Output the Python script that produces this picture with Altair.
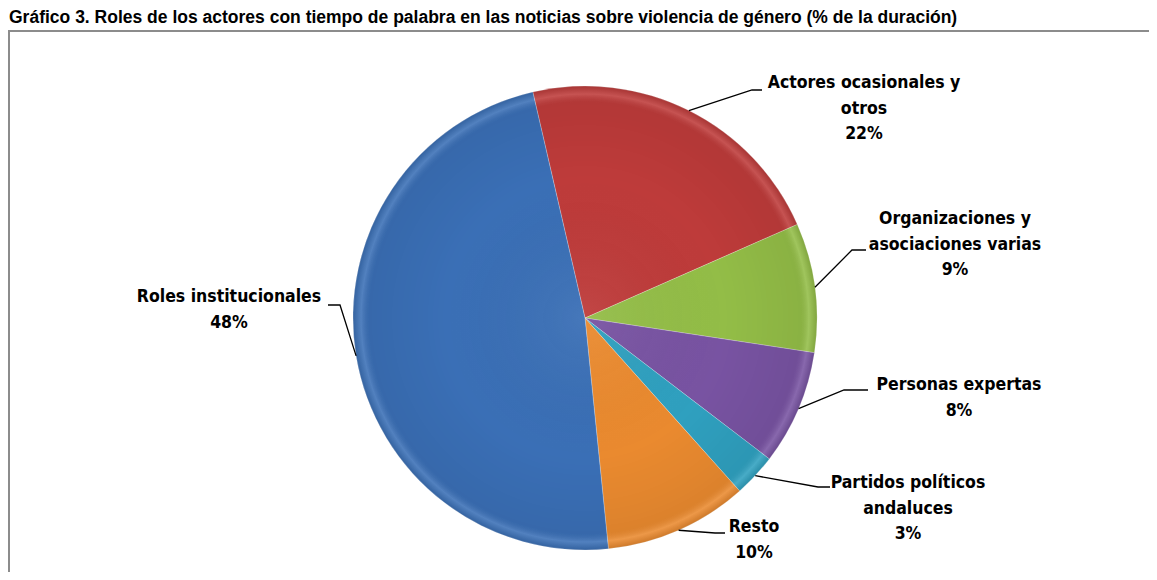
import math
import altair as alt
import pandas as pd

# ---- data ----
categories = [
    "Actores ocasionales y otros",
    "Organizaciones y asociaciones varias",
    "Personas expertas",
    "Partidos políticos andaluces",
    "Resto",
    "Roles institucionales",
]
values = [22, 9, 8, 3, 10, 48]
label_lines = [
    ["Actores ocasionales y", "otros"],
    ["Organizaciones y", "asociaciones varias"],
    ["Personas expertas"],
    ["Partidos políticos", "andaluces"],
    ["Resto"],
    ["Roles institucionales"],
]
colors = ["#BE3B3A", "#93BD47", "#7853A2", "#2FA0BF", "#EA8A2F", "#3A6FB6"]
title_text = ("Gráfico 3. Roles de los actores con tiempo de palabra en las noticias "
              "sobre violencia de género (% de la duración)")

# ---- layout ----
W, H = 1141, 564
CX, CY, R = 577, 310, 232
START = math.radians(-13)
LINE_H = 25.5
label_pos = [(856, 75), (947, 211), (951, 377), (900, 475), (746, 519), (221, 289)]
leader_elbow = [(744, 82), (844, 242), (836, 382), (810, 479), (707, 525), (332, 297)]
leader_end = [(754, 82), (858, 242), (860, 382), (822, 479), (717, 525), (320, 297)]
LABEL_FONT = "Liberation Sans Narrow, DejaVu Sans Condensed, Roboto Condensed, Roboto, sans-serif"

total = sum(values)
pie_df = pd.DataFrame({"cat": categories, "value": values, "ord": list(range(len(values)))})

# label text rows and leader lines derived from slice mid-angles
text_rows = []
line_rows = []
cum = 0.0
for i, (c, v) in enumerate(zip(categories, values)):
    mid = START + 2 * math.pi * (cum + v / 2) / total
    cum += v
    sx = CX + R * math.sin(mid)
    sy = CY - R * math.cos(mid)
    lines = label_lines[i] + [f"{v}%"]
    lx, ly = label_pos[i]
    for k, t in enumerate(lines):
        text_rows.append({"t": t, "x": lx, "y": ly + k * LINE_H})
    pts = [(sx, sy), leader_elbow[i], leader_end[i]]
    for k, (px, py) in enumerate(pts):
        line_rows.append({"g": c, "k": k, "x": px, "y": py})

text_df = pd.DataFrame(text_rows)
line_df = pd.DataFrame(line_rows)

xs = alt.Scale(domain=[0, W], range=[0, W], nice=False, zero=False)
ys = alt.Scale(domain=[0, H], range=[0, H], nice=False, zero=False)

frame = alt.Chart(pd.DataFrame({"a": [0]})).mark_rect(
    fillOpacity=0, stroke="#8c8c8c", strokeWidth=2
).encode(x=alt.value(1), x2=alt.value(W + 30), y=alt.value(23), y2=alt.value(H + 30))

title = alt.Chart(pd.DataFrame({"t": [title_text]})).mark_text(
    align="left", baseline="top", font="Liberation Sans, Arial, sans-serif",
    fontWeight="bold", fontSize=17.5, color="#000000"
).encode(x=alt.value(1), y=alt.value(1), text="t:N")

pie = alt.Chart(pie_df).mark_arc(
    outerRadius=R, stroke="#ffffff", strokeWidth=0.8, strokeOpacity=0.3
).encode(
    theta=alt.Theta("value:Q", stack=True,
                    scale=alt.Scale(domain=[0, total], range=[START, START + 2 * math.pi])),
    color=alt.Color("cat:N", scale=alt.Scale(domain=categories, range=colors), legend=None),
    order=alt.Order("ord:Q"),
    x=alt.value(CX),
    y=alt.value(CY),
)

shade = alt.Chart(pd.DataFrame({"a": [0]})).mark_arc(
    theta=0, theta2=2 * math.pi, outerRadius=R,
    fill=alt.RadialGradient(
        gradient="radial", x1=0.5, y1=0.5, r1=0, x2=0.5, y2=0.5, r2=0.5,
        stops=[
            alt.GradientStop(color="rgba(255,255,255,0.06)", offset=0),
            alt.GradientStop(color="rgba(0,0,0,0.0)", offset=0.6),
            alt.GradientStop(color="rgba(0,0,0,0.06)", offset=0.93),
            alt.GradientStop(color="rgba(255,255,255,0.12)", offset=0.965),
            alt.GradientStop(color="rgba(0,0,0,0.12)", offset=1),
        ],
    ),
).encode(x=alt.value(CX), y=alt.value(CY))

leaders = alt.Chart(line_df).mark_line(color="#000000", strokeWidth=1.3).encode(
    x=alt.X("x:Q", scale=xs, axis=None),
    y=alt.Y("y:Q", scale=ys, axis=None),
    detail="g:N",
    order="k:Q",
)

labels = alt.Chart(text_df).mark_text(
    align="center", baseline="middle", font=LABEL_FONT, fontWeight="bold",
    fontSize=17.5, color="#000000"
).encode(
    x=alt.X("x:Q", scale=xs, axis=None),
    y=alt.Y("y:Q", scale=ys, axis=None),
    text="t:N",
)

chart = alt.layer(frame, title, pie, shade, leaders, labels).properties(
    width=W, height=H, autosize=alt.AutoSizeParams(type="none"), padding=0
).configure_view(strokeWidth=0)

chart.save("out.html", embed_options={"renderer": "svg", "actions": False})
